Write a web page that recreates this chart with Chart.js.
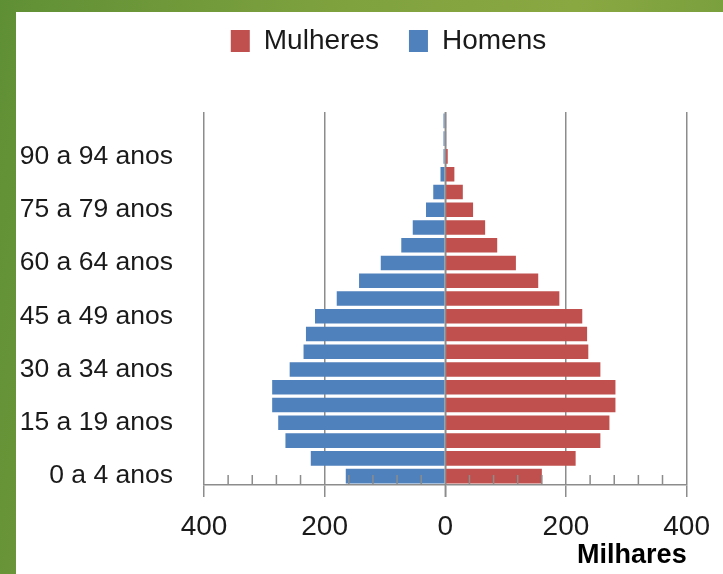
<!DOCTYPE html>
<html>
<head>
<meta charset="utf-8">
<script src="https://cdn.jsdelivr.net/npm/chart.js@4.4.1/dist/chart.umd.min.js"></script>
<style>
  html, body { margin: 0; padding: 0; }
  body {
    width: 723px; height: 574px; overflow: hidden; position: relative;
    background: linear-gradient(100deg, #5f8f35 0%, #7ea13e 40%, #8aa842 70%, #6f9a3a 100%);
  }
  #panel { position: absolute; left: 16px; top: 12px; right: 0; bottom: 0; background: #fff; }
  #chart { position: absolute; left: 0; top: -3px; }
</style>
</head>
<body>
<div id="panel"></div>
<canvas id="chart" width="723" height="577"></canvas>
<script>
// ── Pirâmide etária (milhares) ─────────────────────────────
const categories = [
  '0 a 4 anos', '5 a 9 anos', '10 a 14 anos', '15 a 19 anos', '20 a 24 anos',
  '25 a 29 anos', '30 a 34 anos', '35 a 39 anos', '40 a 44 anos', '45 a 49 anos',
  '50 a 54 anos', '55 a 59 anos', '60 a 64 anos', '65 a 69 anos', '70 a 74 anos',
  '75 a 79 anos', '80 a 84 anos', '85 a 89 anos', '90 a 94 anos', '95 a 99 anos',
  '100 anos ou mais'
];
const mulheres = [160, 216, 257, 272, 282, 282, 257, 237, 235, 227, 189, 154, 117, 86, 66, 46, 29, 15, 4, 1, 1];
const homens   = [165, 223, 265, 277, 287, 287, 258, 235, 231, 216, 180, 143, 107, 73, 54, 32, 20, 8, 3, 3, 3];
const xTicks = [-400, -200, 0, 200, 400];

const FONT = '"Liberation Sans", Arial, sans-serif';
const GRID = '#8c8c8c';
const MINOR_STEP = 40;

// legend is centred over the plot, not the whole canvas
const legendShift = {
  id: 'legendShift',
  afterLayout(chart) { chart.legend.left += 89; },
};

// minor tick marks above the axis + the zero axis line on top of the bars
const minorTicks = {
  id: 'minorTicks',
  afterDatasetsDraw(chart) {
    const { ctx, chartArea, scales: { x } } = chart;
    ctx.save();
    ctx.strokeStyle = GRID;
    ctx.lineWidth = 1.5;
    ctx.beginPath();
    for (let v = x.min + MINOR_STEP; v < x.max; v += MINOR_STEP) {
      if (v % 200 === 0) continue;
      const px = x.getPixelForValue(v);
      ctx.moveTo(px, chartArea.bottom);
      ctx.lineTo(px, chartArea.bottom - 10);
    }
    const z = x.getPixelForValue(0);
    ctx.moveTo(z, chartArea.top);
    ctx.lineTo(z, chartArea.bottom + 12);
    ctx.stroke();
    ctx.restore();
  }
};

new Chart(document.getElementById('chart'), {
  type: 'bar',
  data: {
    labels: categories,
    datasets: [
      { label: 'Mulheres', data: mulheres, backgroundColor: '#C0504D', xAxisID: 'x', yAxisID: 'y' },
      { label: 'Homens', data: homens.map(v => -v), backgroundColor: '#4F81BD', xAxisID: 'x', yAxisID: 'y' },
    ],
  },
  options: {
    indexAxis: 'y',
    responsive: false,
    animation: false,
    barPercentage: 0.82,
    categoryPercentage: 1,
    layout: { padding: { top: 0, right: 35, left: 0, bottom: 0 } },
    plugins: {
      legend: {
        position: 'top',
        labels: {
          font: { family: FONT, size: 28 },
          color: '#1a1a1a',
          boxWidth: 19,
          boxHeight: 22,
          padding: 30,
        },
      },
      tooltip: { enabled: false },
    },
    scales: {
      x: {
        stacked: true,
        min: -400, max: 400,
        afterBuildTicks: s => { s.ticks = xTicks.map(v => ({ value: v })); },
        ticks: {
          callback: v => Math.abs(v),
          font: { family: FONT, size: 28 },
          color: '#1a1a1a',
          padding: 13,
          maxRotation: 0,
        },
        grid: { color: GRID, lineWidth: 1.5, tickLength: 12, tickColor: GRID },
        border: { display: true, color: GRID, width: 1.5 },
        title: {
          display: true, text: 'Milhares', align: 'end',
          font: { family: FONT, size: 27, weight: 'bold' },
          color: '#000',
          padding: { top: 0, bottom: 2 },
        },
        afterFit: s => { s.height = 89; },
      },
      // empty spacer between the legend and the plot
      gap: {
        axis: 'x', position: 'top', display: true,
        min: 0, max: 1,
        ticks: { display: false }, grid: { display: false }, border: { display: false },
        afterFit: s => { s.height = 47; },
      },
      y: {
        stacked: true,
        reverse: true,
        ticks: {
          autoSkip: false,
          callback: (v, i) => (i % 3 === 0 ? categories[i] : ''),
          font: { family: FONT, size: 26.5 },
          color: '#1a1a1a',
          padding: 31,
        },
        grid: { display: false, drawTicks: false },
        border: { display: false },
        afterFit: s => { s.width = 204; },
      },
    },
  },
  plugins: [minorTicks, legendShift],
});
</script>
</body>
</html>
